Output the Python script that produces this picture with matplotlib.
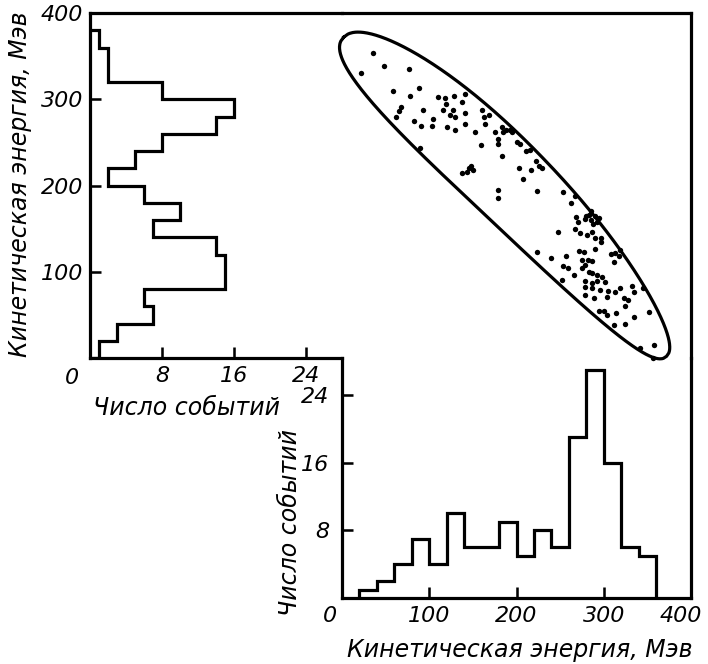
import numpy as np
import matplotlib
matplotlib.use("Agg")
import matplotlib.pyplot as plt
from matplotlib.transforms import offset_copy, ScaledTranslation

plt.rcParams['font.family'] = ['DejaVu Sans']
plt.rcParams['font.style'] = 'italic'

# ---- data -------------------------------------------------------------
# energy spectrum of the first fragment (left, horizontal histogram)
left_edges = [0, 20, 40, 60, 80, 100, 120, 140, 160, 180, 200, 220, 240,
              260, 280, 300, 320, 340, 360, 380]
left_counts = [1, 3, 7, 6, 15, 15, 14, 7, 10, 6, 2, 5, 8, 14, 16, 8, 2, 2, 1]

# energy spectrum of the second fragment (bottom histogram)
bottom_edges = [20, 40, 60, 80, 100, 120, 140, 160, 180, 200, 220, 240, 260,
                280, 300, 320, 340, 360]
bottom_counts = [1, 2, 4, 7, 4, 10, 6, 6, 9, 5, 8, 6, 19, 27, 16, 6, 5]

# correlated events: (E1, E2), MeV
e1 = [35, 48, 22, 77, 58, 88, 78, 68, 65, 62, 93, 83, 90, 103, 104, 110, 118,
      128, 119, 116, 127, 124, 130, 138, 141, 141, 141, 120, 129, 153, 161,
      163, 169, 164, 159, 175, 183, 179, 179, 188, 192, 183, 89, 137, 148, 150,
      179, 179, 200, 204, 211, 215, 203, 208, 217, 222, 226, 224, 253, 267,
      262, 268, 270, 280, 285, 290, 285, 292, 278, 288, 295, 283, 248, 267,
      273, 281, 286, 290, 297, 297, 224, 240, 257, 272, 277, 282, 290, 308,
      313, 319, 312, 253, 259, 266, 275, 279, 283, 286, 292, 298, 252, 279,
      286, 292, 302, 279, 286, 296, 305, 313, 319, 332, 335, 345, 278, 289,
      304, 323, 328, 324, 294, 300, 304, 314, 335, 352, 312, 324, 342, 358,
      356, 184, 195, 229, 146, 143, 286, 317, 275]
e2 = [354, 339, 330, 335, 310, 313, 304, 291, 286, 279, 287, 275, 269, 269,
      277, 303, 301, 304, 295, 288, 288, 282, 279, 297, 306, 284, 271, 268,
      264, 262, 287, 279, 282, 271, 247, 262, 268, 254, 248, 264, 264, 234,
      244, 214, 223, 218, 195, 186, 250, 248, 240, 241, 220, 208, 218, 228,
      223, 194, 193, 188, 180, 164, 158, 165, 170, 165, 160, 158, 161, 155,
      162, 166, 146, 150, 145, 143, 146, 139, 139, 135, 123, 116, 118, 124,
      123, 114, 126, 121, 122, 125, 111, 107, 104, 96, 104, 108, 100, 98, 96,
      94, 90, 89, 87, 89, 88, 82, 81, 79, 78, 77, 81, 83, 77, 81, 73, 69, 71,
      69, 67, 60, 55, 54, 50, 52, 48, 53, 38, 39, 12, 15, 0, 262, 262, 220,
      220, 216, 112, 118, 114]

# ---- layout (pixel boxes on a 708 x 664 canvas) ------------------------
W, H = 708, 664
fig = plt.figure(figsize=(W / 100, H / 100), dpi=100)


def box(x0, y0, x1, y1):
    return fig.add_axes([x0 / W, 1 - y1 / H, (x1 - x0) / W, (y1 - y0) / H])


ax_l = box(90, 13, 342, 358)
ax_s = box(342, 13, 691, 358)
ax_b = box(342, 358, 691, 598)

LW = 2.3
FS = 16      # tick numbers
FT = 17      # axis titles

for ax in (ax_l, ax_s, ax_b):
    for sp in ax.spines.values():
        sp.set_linewidth(LW)
    ax.tick_params(direction='in', length=8, width=LW * 0.8, labelsize=FS)
    ax.patch.set_alpha(0)

ax_l.spines['right'].set_visible(False)
ax_s.spines['left'].set_visible(False)
ax_s.spines['bottom'].set_visible(False)
ax_b.spines['top'].set_visible(False)

# left histogram
ax_l.stairs(left_counts, left_edges, orientation='horizontal', baseline=0,
            color='black', linewidth=LW)
ax_l.set_xlim(0, 28)
ax_l.set_ylim(0, 400)
ax_l.set_xticks([8, 16, 24])
ax_l.set_yticks([100, 200, 300, 400])
ax_l.tick_params(axis='x', pad=6)
ax_l.tick_params(axis='y', pad=5)
ax_l.text(0, 0, "0", fontsize=FS, ha='center', va='center',
          transform=offset_copy(ax_l.transData, fig, x=-18, y=-20, units='dots'))

# bottom histogram
ax_b.stairs(bottom_counts, bottom_edges, baseline=0,
            color='black', linewidth=LW)
ax_b.set_xlim(0, 400)
ax_b.set_ylim(0, 28.4)
ax_b.set_xticks([100, 200, 300, 400])
ax_b.set_yticks([8, 16, 24])
ax_b.tick_params(axis='x', pad=6)
ax_b.tick_params(axis='y', pad=9)
ax_b.text(0, 0, "0", fontsize=FS, ha='center', va='center',
          transform=offset_copy(ax_b.transData, fig, x=-12, y=-18, units='dots'))
# keep the last energy number inside the canvas
last = ax_b.get_xticklabels()[-1]
last.set_transform(last.get_transform()
                   + ScaledTranslation(-10 / 100, 0, fig.dpi_scale_trans))

# scatter of correlated energies
ax_s.set_xlim(0, 400)
ax_s.set_ylim(0, 400)
ax_s.set_xticks([])
ax_s.set_yticks([])
ax_s.scatter(e1, e2, s=15, c='black', linewidths=0, clip_on=False)

# selection contour around the E1 + E2 band
half_len, s_mid, bend, width0, taper, n = 370.0, 396.0, 22.0, 66.0, 0.024, 2.2
t = np.linspace(-1, 1, 600)
u = half_len * t
half = (width0 - taper * u) * (1 - np.abs(t) ** n) ** (1 / n)
centre = s_mid - bend * t ** 2
s_up, s_lo = centre + half, centre - half
su = np.concatenate([s_up, s_lo[::-1]])
uu = np.concatenate([u, u[::-1]])
ax_s.plot((su + uu) / 2, (su - uu) / 2, color='black', linewidth=LW,
          clip_on=False, solid_joinstyle='round')

# axis titles
fig.text(20 / W, 1 - 184 / H, "Кинетическая энергия, Мэв", rotation=90,
         ha='center', va='center', fontsize=FT)
fig.text(186 / W, 1 - 408 / H, "Число событий", ha='center', va='center',
         fontsize=FT)
fig.text(290 / W, 1 - 523 / H, "Число событий", rotation=90,
         ha='center', va='center', fontsize=FT)
fig.text(520 / W, 1 - 650 / H, "Кинетическая энергия, Мэв",
         ha='center', va='center', fontsize=FT)

fig.savefig("out.png", dpi=100, facecolor='white')
